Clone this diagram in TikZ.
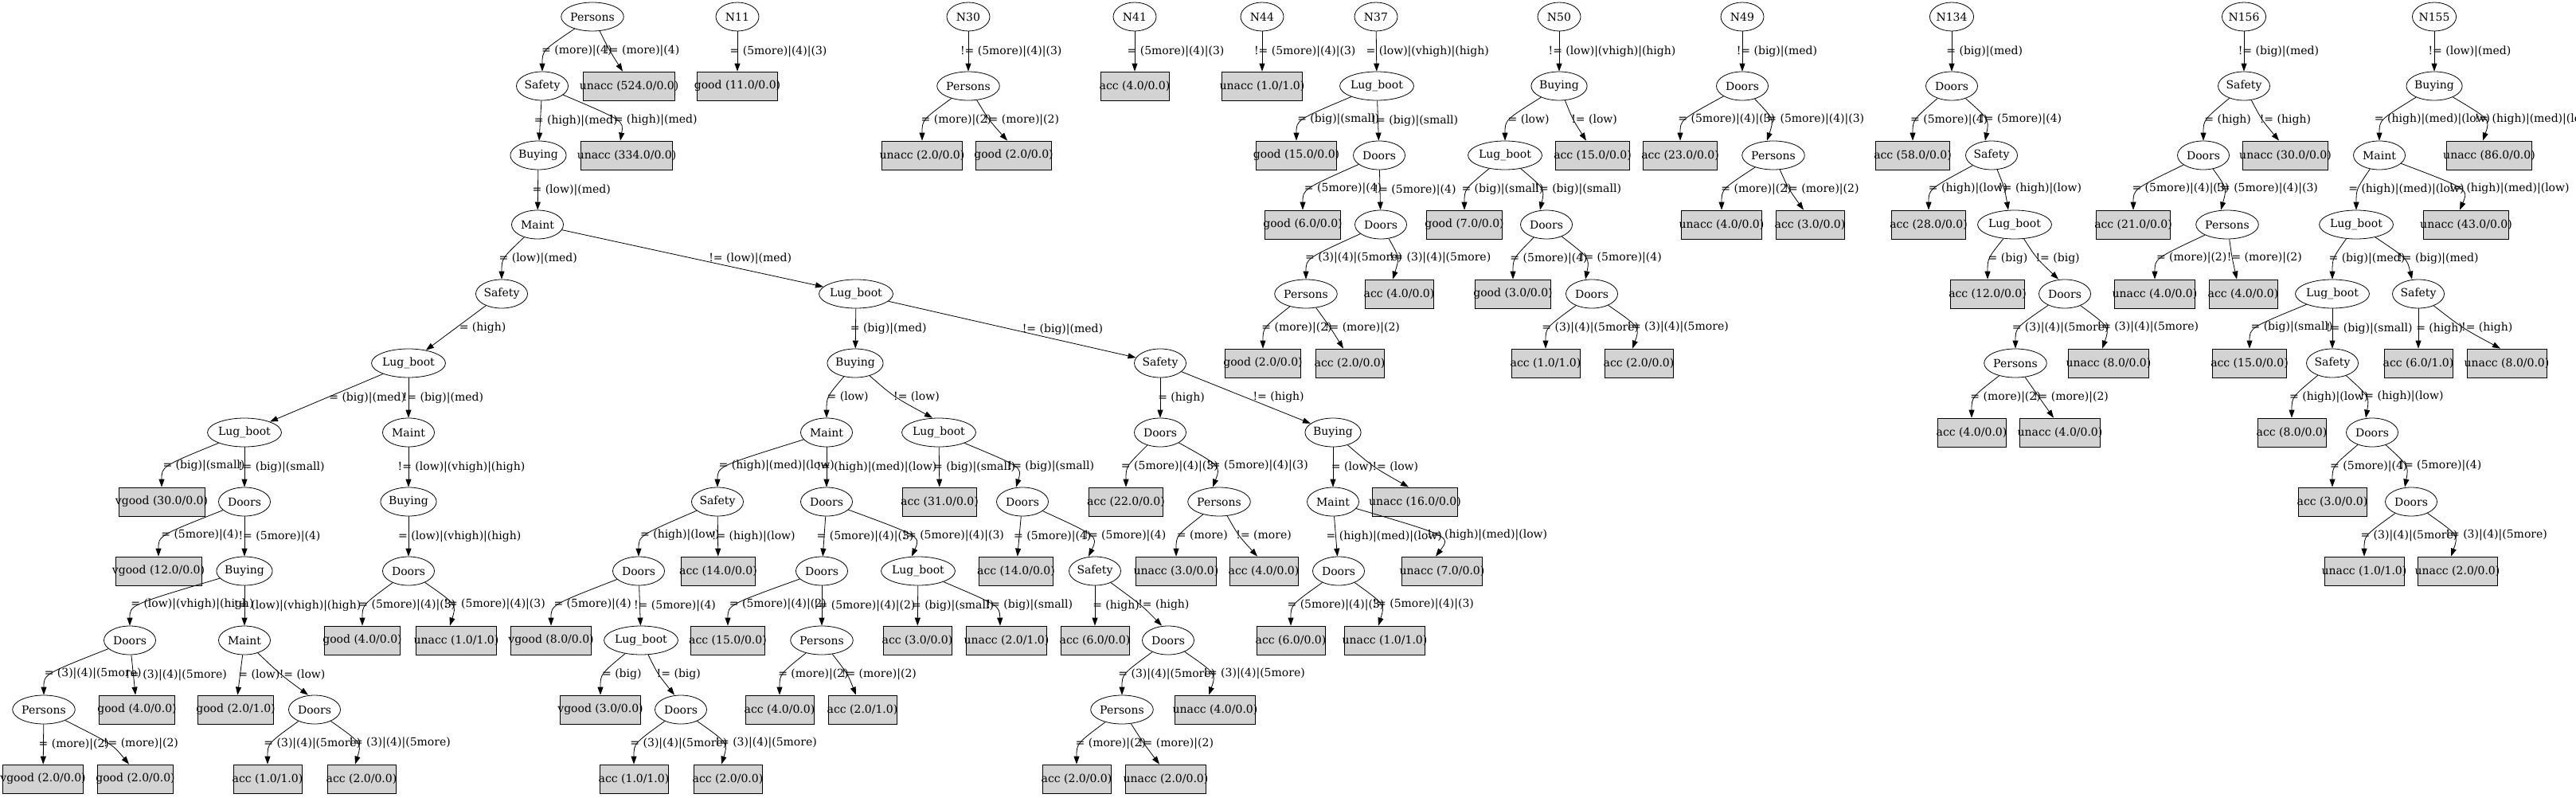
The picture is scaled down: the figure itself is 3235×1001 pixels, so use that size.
\documentclass[tikz,border=0pt]{standalone}
\usepackage{fontspec}
\setmainfont{DejaVu Serif}
\usepackage{tikz}
\usetikzlibrary{arrows.meta}
\usetikzlibrary{shapes.geometric}
\usetikzlibrary{calc}
\definecolor{leafgray}{HTML}{D3D3D3}
\tikzset{
  attr/.style={ellipse, draw, line width=0.8pt, minimum width=65pt, minimum height=36pt, inner sep=0pt},
  rootnode/.style={attr, minimum width=54pt},
  leafbox/.style={draw, fill=leafgray, line width=0.8pt, minimum width=54pt, minimum height=36pt, inner xsep=8pt, inner ysep=0pt},
  branch/.style={line width=0.8pt, -{Triangle[length=10pt,width=7pt]}},
  lbl/.style={pos=0.5, anchor=west, inner sep=0pt, xshift=3pt},
}
\newcommand{\res}[1]{\makebox[0.79\width]{#1}}
\newcommand{\edgeS}[3]{\draw[branch] (#1) -- (#2) node[lbl] (#2l) {\res{#3}};}
\newcommand{\edgeD}[4]{\draw[branch] (#1) -- (#2) node[lbl, xshift=#3] (#2l) {\res{#4}};}
\newcommand{\edgeL}[3]{\draw[branch] (#1) .. controls ($(#2.north)+(0,-26)$) .. (#2.north) node[lbl] (#2l) {\res{#3}};}
\newcommand{\edgeR}[4]{%
  \coordinate (#2e) at ($(#2.north)+(-8,0)$);
  \coordinate (#2m) at ($(#1.south)!0.5!(#2e)$);
  \path let \p1=($(#3l.east)+(5,0)$), \p2=(#2m) in coordinate (#2p) at ({max(\x1,\x2)},\y1);
  \draw[branch] (#1) .. controls ($(#2p)!-0.3333!(#2m)$) .. (#2e) node[lbl] (#2l) {\res{#4}};}

\begin{document}
\begin{tikzpicture}[x=1pt, y=-1pt, font=\fontsize{14}{17}\selectfont]
\useasboundingbox (0,0) rectangle (3235,1001);

\node[attr] (a0) at (744,21) {Persons};
\node[attr] (a1) at (681,108) {Safety};
\node[leafbox] (a1x) at (790,108) {\res{unacc (524.0/0.0)}};
\node[attr] (a2) at (676,195) {Buying};
\node[leafbox] (a2x) at (787,195) {\res{unacc (334.0/0.0)}};
\node[attr] (a3) at (675,282) {Maint};
\node[attr] (a4) at (630,369) {Safety};
\node[attr] (a5) at (1075,369) {Lug\_boot};
\node[attr] (a6) at (513,456) {Lug\_boot};
\node[attr] (a7) at (307,543) {Lug\_boot};
\node[attr] (a8) at (513,543) {Maint};
\node[leafbox] (a9) at (203,630) {\res{vgood (30.0/0.0)}};
\node[attr] (a10) at (307,630) {Doors};
\node[attr] (a11) at (513,630) {Buying};
\node[leafbox] (a12) at (199,717) {\res{vgood (12.0/0.0)}};
\node[attr] (a13) at (307,717) {Buying};
\node[attr] (a14) at (513,717) {Doors};
\node[attr] (a15) at (163,804) {Doors};
\node[attr] (a16) at (307,804) {Maint};
\node[leafbox] (a17) at (455,804) {\res{good (4.0/0.0)}};
\node[leafbox] (a18) at (573,804) {\res{unacc (1.0/1.0)}};
\node[attr] (a19) at (55,891) {Persons};
\node[leafbox] (a20) at (172,891) {\res{good (4.0/0.0)}};
\node[leafbox] (a21) at (296,891) {\res{good (2.0/1.0)}};
\node[attr] (a22) at (395,891) {Doors};
\node[leafbox] (a23) at (54,978) {\res{vgood (2.0/0.0)}};
\node[leafbox] (a24) at (170,978) {\res{good (2.0/0.0)}};
\node[leafbox] (a25) at (336,978) {\res{acc (1.0/1.0)}};
\node[leafbox] (a26) at (454,978) {\res{acc (2.0/0.0)}};
\node[attr] (a27) at (1074,456) {Buying};
\node[attr] (a28) at (1457,456) {Safety};
\node[attr] (a29) at (1038,543) {Maint};
\node[attr] (a30) at (1179,543) {Lug\_boot};
\node[attr] (a31) at (1457,543) {Doors};
\node[attr] (a32) at (1674,543) {Buying};
\node[attr] (a33) at (901,630) {Safety};
\node[attr] (a34) at (1038,630) {Doors};
\node[leafbox] (a35) at (1180,630) {\res{acc (31.0/0.0)}};
\node[attr] (a36) at (1284,630) {Doors};
\node[leafbox] (a37) at (1414,630) {\res{acc (22.0/0.0)}};
\node[attr] (a38) at (1531,630) {Persons};
\node[attr] (a39) at (1674,630) {Maint};
\node[leafbox] (a40) at (1777,630) {\res{unacc (16.0/0.0)}};
\node[attr] (a41) at (802,717) {Doors};
\node[leafbox] (a42) at (902,717) {\res{acc (14.0/0.0)}};
\node[attr] (a43) at (1032,717) {Doors};
\node[attr] (a44) at (1153,717) {Lug\_boot};
\node[leafbox] (a45) at (1276,717) {\res{acc (14.0/0.0)}};
\node[attr] (a46) at (1375,717) {Safety};
\node[leafbox] (a47) at (1477,717) {\res{unacc (3.0/0.0)}};
\node[leafbox] (a48) at (1587,717) {\res{acc (4.0/0.0)}};
\node[attr] (a49) at (1681,717) {Doors};
\node[leafbox] (a50) at (1811,717) {\res{unacc (7.0/0.0)}};
\node[leafbox] (a51) at (692,804) {\res{vgood (8.0/0.0)}};
\node[attr] (a52) at (805,804) {Lug\_boot};
\node[leafbox] (a53) at (914,804) {\res{acc (15.0/0.0)}};
\node[attr] (a54) at (1032,804) {Persons};
\node[leafbox] (a55) at (1152,804) {\res{acc (3.0/0.0)}};
\node[leafbox] (a56) at (1264,804) {\res{unacc (2.0/1.0)}};
\node[leafbox] (a57) at (1375,804) {\res{acc (6.0/0.0)}};
\node[attr] (a58) at (1467,804) {Doors};
\node[leafbox] (a59) at (1621,804) {\res{acc (6.0/0.0)}};
\node[leafbox] (a60) at (1739,804) {\res{unacc (1.0/1.0)}};
\node[leafbox] (a61) at (754,891) {\res{vgood (3.0/0.0)}};
\node[attr] (a62) at (855,891) {Doors};
\node[leafbox] (a63) at (979,891) {\res{acc (4.0/0.0)}};
\node[leafbox] (a64) at (1083,891) {\res{acc (2.0/1.0)}};
\node[attr] (a65) at (1409,891) {Persons};
\node[leafbox] (a66) at (1526,891) {\res{unacc (4.0/0.0)}};
\node[leafbox] (a67) at (796,978) {\res{acc (1.0/1.0)}};
\node[leafbox] (a68) at (914,978) {\res{acc (2.0/0.0)}};
\node[leafbox] (a69) at (1352,978) {\res{acc (2.0/0.0)}};
\node[leafbox] (a70) at (1464,978) {\res{unacc (2.0/0.0)}};

\node[rootnode] (n11) at (926,21) {N11};
\node[leafbox] (n11a) at (926,108) {\res{good (11.0/0.0)}};
\node[rootnode] (n30) at (1216,21) {N30};
\node[attr] (n30a) at (1216,108) {Persons};
\node[leafbox] (n30b) at (1158,195) {\res{unacc (2.0/0.0)}};
\node[leafbox] (n30c) at (1273,195) {\res{good (2.0/0.0)}};
\node[rootnode] (n41) at (1425,21) {N41};
\node[leafbox] (n41a) at (1425,108) {\res{acc (4.0/0.0)}};
\node[rootnode] (n44) at (1585,21) {N44};
\node[leafbox] (n44a) at (1585,108) {\res{unacc (1.0/1.0)}};
\node[rootnode] (n37) at (1728,21) {N37};
\node[attr] (n37a) at (1729,108) {Lug\_boot};
\node[leafbox] (n37b) at (1628,195) {\res{good (15.0/0.0)}};
\node[attr] (n37c) at (1732,195) {Doors};
\node[leafbox] (n37d) at (1636,282) {\res{good (6.0/0.0)}};
\node[attr] (n37e) at (1734,282) {Doors};
\node[attr] (n37f) at (1640,369) {Persons};
\node[leafbox] (n37g) at (1757,369) {\res{acc (4.0/0.0)}};
\node[leafbox] (n37h) at (1586,456) {\res{good (2.0/0.0)}};
\node[leafbox] (n37i) at (1695,456) {\res{acc (2.0/0.0)}};
\node[rootnode] (n50) at (1958,21) {N50};
\node[attr] (n50a) at (1958,108) {Buying};
\node[attr] (n50b) at (1890,195) {Lug\_boot};
\node[leafbox] (n50c) at (2000,195) {\res{acc (15.0/0.0)}};
\node[leafbox] (n50d) at (1839,282) {\res{good (7.0/0.0)}};
\node[attr] (n50e) at (1942,282) {Doors};
\node[leafbox] (n50f) at (1900,369) {\res{good (3.0/0.0)}};
\node[attr] (n50g) at (1999,369) {Doors};
\node[leafbox] (n50h) at (1941,456) {\res{acc (1.0/1.0)}};
\node[leafbox] (n50i) at (2058,456) {\res{acc (2.0/0.0)}};
\node[rootnode] (n49) at (2188,21) {N49};
\node[attr] (n49a) at (2188,108) {Doors};
\node[leafbox] (n49b) at (2110,195) {\res{acc (23.0/0.0)}};
\node[attr] (n49c) at (2227,195) {Persons};
\node[leafbox] (n49d) at (2162,282) {\res{unacc (4.0/0.0)}};
\node[leafbox] (n49e) at (2273,282) {\res{acc (3.0/0.0)}};
\node[rootnode] (n134) at (2451,21) {N134};
\node[attr] (n134a) at (2451,108) {Doors};
\node[leafbox] (n134b) at (2402,195) {\res{acc (58.0/0.0)}};
\node[attr] (n134c) at (2501,195) {Safety};
\node[leafbox] (n134d) at (2422,282) {\res{acc (28.0/0.0)}};
\node[attr] (n134e) at (2530,282) {Lug\_boot};
\node[leafbox] (n134f) at (2496,369) {\res{acc (12.0/0.0)}};
\node[attr] (n134g) at (2593,369) {Doors};
\node[attr] (n134h) at (2531,456) {Persons};
\node[leafbox] (n134i) at (2648,456) {\res{unacc (8.0/0.0)}};
\node[leafbox] (n134j) at (2476,543) {\res{acc (4.0/0.0)}};
\node[leafbox] (n134k) at (2587,543) {\res{unacc (4.0/0.0)}};
\node[rootnode] (n156) at (2818,21) {N156};
\node[attr] (n156a) at (2818,108) {Safety};
\node[attr] (n156b) at (2767,195) {Doors};
\node[leafbox] (n156c) at (2870,195) {\res{unacc (30.0/0.0)}};
\node[leafbox] (n156d) at (2679,282) {\res{acc (21.0/0.0)}};
\node[attr] (n156e) at (2797,282) {Persons};
\node[leafbox] (n156f) at (2706,369) {\res{unacc (4.0/0.0)}};
\node[leafbox] (n156g) at (2817,369) {\res{acc (4.0/0.0)}};
\node[rootnode] (n155) at (3057,21) {N155};
\node[attr] (n155a) at (3057,108) {Buying};
\node[attr] (n155b) at (2988,195) {Maint};
\node[leafbox] (n155c) at (3126,195) {\res{unacc (86.0/0.0)}};
\node[attr] (n155d) at (2959,282) {Lug\_boot};
\node[leafbox] (n155e) at (3097,282) {\res{unacc (43.0/0.0)}};
\node[attr] (n155f) at (2929,369) {Lug\_boot};
\node[attr] (n155g) at (3037,369) {Safety};
\node[leafbox] (n155h) at (2825,456) {\res{acc (15.0/0.0)}};
\node[attr] (n155i) at (2929,456) {Safety};
\node[leafbox] (n155j) at (3037,456) {\res{acc (6.0/1.0)}};
\node[leafbox] (n155k) at (3148,456) {\res{unacc (8.0/0.0)}};
\node[leafbox] (n155l) at (2878,543) {\res{acc (8.0/0.0)}};
\node[attr] (n155m) at (2979,543) {Doors};
\node[leafbox] (n155n) at (2929,630) {\res{acc (3.0/0.0)}};
\node[attr] (n155o) at (3028,630) {Doors};
\node[leafbox] (n155p) at (2969,717) {\res{unacc (1.0/1.0)}};
\node[leafbox] (n155q) at (3086,717) {\res{unacc (2.0/0.0)}};

\edgeL{a0}{a1}{= (more)|(4)}
\edgeR{a0}{a1x}{a1}{!= (more)|(4)}
\edgeS{a1}{a2}{= (high)|(med)}
\edgeR{a1}{a2x}{a2}{!= (high)|(med)}
\edgeS{a2}{a3}{= (low)|(med)}
\edgeL{a3}{a4}{= (low)|(med)}
\edgeD{a3}{a5}{28pt}{!= (low)|(med)}
\edgeD{a4}{a6}{7pt}{= (high)}
\edgeD{a6}{a7}{10pt}{= (big)|(med)}
\edgeS{a6}{a8}{!= (big)|(med)}
\edgeL{a7}{a9}{= (big)|(small)}
\edgeS{a7}{a10}{!= (big)|(small)}
\edgeL{a10}{a12}{= (5more)|(4)}
\edgeS{a10}{a13}{!= (5more)|(4)}
\edgeL{a13}{a15}{= (low)|(vhigh)|(high)}
\edgeS{a13}{a16}{!= (low)|(vhigh)|(high)}
\edgeL{a15}{a19}{= (3)|(4)|(5more)}
\edgeS{a15}{a20}{!= (3)|(4)|(5more)}
\edgeS{a19}{a23}{= (more)|(2)}
\edgeR{a19}{a24}{a23}{!= (more)|(2)}
\edgeS{a16}{a21}{= (low)}
\edgeR{a16}{a22}{a21}{!= (low)}
\edgeL{a22}{a25}{= (3)|(4)|(5more)}
\edgeR{a22}{a26}{a25}{!= (3)|(4)|(5more)}
\edgeS{a8}{a11}{!= (low)|(vhigh)|(high)}
\edgeS{a11}{a14}{= (low)|(vhigh)|(high)}
\edgeL{a14}{a17}{= (5more)|(4)|(3)}
\edgeR{a14}{a18}{a17}{!= (5more)|(4)|(3)}
\edgeS{a5}{a27}{= (big)|(med)}
\edgeD{a5}{a28}{20pt}{!= (big)|(med)}
\edgeL{a27}{a29}{= (low)}
\edgeR{a27}{a30}{a29}{!= (low)}
\edgeL{a29}{a33}{= (high)|(med)|(low)}
\edgeS{a29}{a34}{!= (high)|(med)|(low)}
\edgeL{a33}{a41}{= (high)|(low)}
\edgeS{a33}{a42}{!= (high)|(low)}
\edgeL{a41}{a51}{= (5more)|(4)}
\edgeS{a41}{a52}{!= (5more)|(4)}
\edgeL{a52}{a61}{= (big)}
\edgeR{a52}{a62}{a61}{!= (big)}
\edgeL{a62}{a67}{= (3)|(4)|(5more)}
\edgeR{a62}{a68}{a67}{!= (3)|(4)|(5more)}
\edgeS{a34}{a43}{= (5more)|(4)|(3)}
\edgeR{a34}{a44}{a43}{!= (5more)|(4)|(3)}
\edgeL{a43}{a53}{= (5more)|(4)|(2)}
\edgeS{a43}{a54}{!= (5more)|(4)|(2)}
\edgeL{a54}{a63}{= (more)|(2)}
\edgeR{a54}{a64}{a63}{!= (more)|(2)}
\edgeS{a44}{a55}{= (big)|(small)}
\edgeR{a44}{a56}{a55}{!= (big)|(small)}
\edgeS{a30}{a35}{= (big)|(small)}
\edgeR{a30}{a36}{a35}{!= (big)|(small)}
\edgeS{a36}{a45}{= (5more)|(4)}
\edgeR{a36}{a46}{a45}{!= (5more)|(4)}
\edgeS{a46}{a57}{= (high)}
\edgeR{a46}{a58}{a57}{!= (high)}
\edgeL{a58}{a65}{= (3)|(4)|(5more)}
\edgeR{a58}{a66}{a65}{!= (3)|(4)|(5more)}
\edgeL{a65}{a69}{= (more)|(2)}
\edgeR{a65}{a70}{a69}{!= (more)|(2)}
\edgeS{a28}{a31}{= (high)}
\edgeD{a28}{a32}{12pt}{!= (high)}
\edgeL{a31}{a37}{= (5more)|(4)|(3)}
\edgeR{a31}{a38}{a37}{!= (5more)|(4)|(3)}
\edgeL{a38}{a47}{= (more)}
\edgeR{a38}{a48}{a47}{!= (more)}
\edgeS{a32}{a39}{= (low)}
\edgeR{a32}{a40}{a39}{!= (low)}
\edgeS{a39}{a49}{= (high)|(med)|(low)}
\edgeR{a39}{a50}{a49}{!= (high)|(med)|(low)}
\edgeL{a49}{a59}{= (5more)|(4)|(3)}
\edgeR{a49}{a60}{a59}{!= (5more)|(4)|(3)}

\edgeS{n11}{n11a}{= (5more)|(4)|(3)}
\edgeS{n30}{n30a}{!= (5more)|(4)|(3)}
\edgeL{n30a}{n30b}{= (more)|(2)}
\edgeR{n30a}{n30c}{n30b}{!= (more)|(2)}
\edgeS{n41}{n41a}{= (5more)|(4)|(3)}
\edgeS{n44}{n44a}{!= (5more)|(4)|(3)}
\edgeS{n37}{n37a}{= (low)|(vhigh)|(high)}
\edgeL{n37a}{n37b}{= (big)|(small)}
\edgeS{n37a}{n37c}{!= (big)|(small)}
\edgeL{n37c}{n37d}{= (5more)|(4)}
\edgeS{n37c}{n37e}{!= (5more)|(4)}
\edgeL{n37e}{n37f}{= (3)|(4)|(5more)}
\edgeR{n37e}{n37g}{n37f}{!= (3)|(4)|(5more)}
\edgeL{n37f}{n37h}{= (more)|(2)}
\edgeR{n37f}{n37i}{n37h}{!= (more)|(2)}
\edgeS{n50}{n50a}{!= (low)|(vhigh)|(high)}
\edgeL{n50a}{n50b}{= (low)}
\edgeR{n50a}{n50c}{n50b}{!= (low)}
\edgeL{n50b}{n50d}{= (big)|(small)}
\edgeR{n50b}{n50e}{n50d}{!= (big)|(small)}
\edgeL{n50e}{n50f}{= (5more)|(4)}
\edgeR{n50e}{n50g}{n50f}{!= (5more)|(4)}
\edgeL{n50g}{n50h}{= (3)|(4)|(5more)}
\edgeR{n50g}{n50i}{n50h}{!= (3)|(4)|(5more)}
\edgeS{n49}{n49a}{!= (big)|(med)}
\edgeL{n49a}{n49b}{= (5more)|(4)|(3)}
\edgeR{n49a}{n49c}{n49b}{!= (5more)|(4)|(3)}
\edgeL{n49c}{n49d}{= (more)|(2)}
\edgeR{n49c}{n49e}{n49d}{!= (more)|(2)}
\edgeS{n134}{n134a}{= (big)|(med)}
\edgeL{n134a}{n134b}{= (5more)|(4)}
\edgeR{n134a}{n134c}{n134b}{!= (5more)|(4)}
\edgeL{n134c}{n134d}{= (high)|(low)}
\edgeR{n134c}{n134e}{n134d}{!= (high)|(low)}
\edgeL{n134e}{n134f}{= (big)}
\edgeR{n134e}{n134g}{n134f}{!= (big)}
\edgeL{n134g}{n134h}{= (3)|(4)|(5more)}
\edgeR{n134g}{n134i}{n134h}{!= (3)|(4)|(5more)}
\edgeL{n134h}{n134j}{= (more)|(2)}
\edgeR{n134h}{n134k}{n134j}{!= (more)|(2)}
\edgeS{n156}{n156a}{!= (big)|(med)}
\edgeL{n156a}{n156b}{= (high)}
\edgeR{n156a}{n156c}{n156b}{!= (high)}
\edgeL{n156b}{n156d}{= (5more)|(4)|(3)}
\edgeR{n156b}{n156e}{n156d}{!= (5more)|(4)|(3)}
\edgeL{n156e}{n156f}{= (more)|(2)}
\edgeR{n156e}{n156g}{n156f}{!= (more)|(2)}
\edgeS{n155}{n155a}{!= (low)|(med)}
\edgeL{n155a}{n155b}{= (high)|(med)|(low)}
\edgeR{n155a}{n155c}{n155b}{!= (high)|(med)|(low)}
\edgeL{n155b}{n155d}{= (high)|(med)|(low)}
\edgeR{n155b}{n155e}{n155d}{!= (high)|(med)|(low)}
\edgeL{n155d}{n155f}{= (big)|(med)}
\edgeR{n155d}{n155g}{n155f}{!= (big)|(med)}
\edgeL{n155f}{n155h}{= (big)|(small)}
\edgeS{n155f}{n155i}{!= (big)|(small)}
\edgeS{n155g}{n155j}{= (high)}
\edgeR{n155g}{n155k}{n155j}{!= (high)}
\edgeL{n155i}{n155l}{= (high)|(low)}
\edgeR{n155i}{n155m}{n155l}{!= (high)|(low)}
\edgeL{n155m}{n155n}{= (5more)|(4)}
\edgeR{n155m}{n155o}{n155n}{!= (5more)|(4)}
\edgeL{n155o}{n155p}{= (3)|(4)|(5more)}
\edgeR{n155o}{n155q}{n155p}{!= (3)|(4)|(5more)}
\end{tikzpicture}
\end{document}
